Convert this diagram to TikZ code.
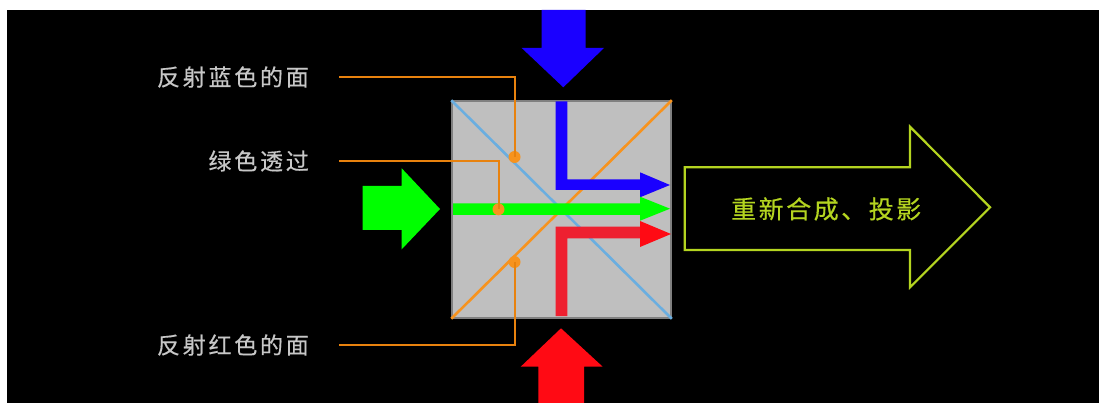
\documentclass[tikz,border=0pt]{standalone}
\usepackage{fontspec}
\newfontfamily\cjklabel[LetterSpace=12,FakeBold=0.4]{Noto Sans CJK SC}
\newfontfamily\cjktitle[LetterSpace=10,FakeBold=0.5]{Noto Sans CJK SC}
\definecolor{lead}{HTML}{E8820E}
\definecolor{dotor}{HTML}{F7931E}
\definecolor{mirb}{HTML}{6AAEE0}
\definecolor{lime}{HTML}{B4D420}
\definecolor{blu}{HTML}{1A00FF}
\definecolor{redb}{HTML}{EE2030}
\definecolor{redh}{HTML}{FF0A14}
\tikzset{
  x=1pt,y=-1pt,
  lab/.style={font=\cjklabel\fontsize{23}{23}\selectfont,text=black!22,inner sep=0pt,anchor=east},
  leadline/.style={draw=lead,line width=2pt,line join=miter},
  hit/.style={circle,fill=dotor,minimum size=12pt,inner sep=0pt},
}
\begin{document}
\begin{tikzpicture}
\useasboundingbox (0,0) rectangle (1099,403);
\fill[white] (0,0) rectangle (1099,403);
\fill[black] (7,10) rectangle (1099,403);
% input arrows
\fill[blu] (541.7,10) -- (585.7,10) -- (585.7,48) -- (604,48) -- (563.3,87.3) -- (521.7,48) -- (541.7,48) -- cycle;
\fill[redh] (538.3,403) -- (584,403) -- (584,366.7) -- (602.7,366.7) -- (561,328.3) -- (520.7,366.7) -- (538.3,366.7) -- cycle;
\fill[green] (362.7,186) -- (401.7,186) -- (401.7,168.3) -- (440,209) -- (401.7,249.3) -- (401.7,230) -- (362.7,230) -- cycle;
% prism
\node[draw=black!50,fill=black!25,line width=1.5pt,minimum width=219pt,minimum height=217pt,inner sep=0pt] (prism) at (561.5,209.5) {};
\draw[mirb,line width=2.6pt] (prism.north west) -- (prism.south east);
\draw[dotor,line width=2.6pt] (prism.south west) -- (prism.north east);
% beams
\fill[blu] (555.7,101.5) -- (567.3,101.5) -- (567.3,179.3) -- (640,179.3) -- (640,172.3) -- (670,185) -- (640,197.3) -- (640,190) -- (555.7,190) -- cycle;
\fill[green] (453,203.3) -- (640,203.3) -- (640,196.7) -- (670,208.7) -- (640,220.7) -- (640,215) -- (453,215) -- cycle;
\fill[redb] (555.7,316) -- (567.3,316) -- (567.3,238.3) -- (641,238.3) -- (641,226.7) -- (555.7,226.7) -- cycle;
\fill[redh] (640,221) -- (671,234) -- (640,247) -- cycle;
% labels
\node[lab] (lblue) at (309,77) {反射蓝色的面};
\node[lab] (lgreen) at (309,161) {绿色透过};
\node[lab] (lred) at (309,345) {反射红色的面};
\coordinate (sblue) at (339,77);
\coordinate (sgreen) at (339,161);
\coordinate (sred) at (339,345);
\node[hit] (dblue) at (514.5,157) {};
\node[hit] (dgreen) at (498.5,209.3) {};
\node[hit] (dred) at (514.5,262) {};
\draw[leadline] (sblue) -| (dblue.center);
\draw[leadline] (sgreen) -| (dgreen.center);
\draw[leadline] (sred) -| (dred.center);
% output
\draw[lime,line width=2.2pt,line join=miter] (684.7,167.3) -- (910,167.3) -- (910,126.7) -- (990,207.3) -- (910,287.3) -- (910,250) -- (684.7,250) -- cycle;
\node[font=\cjktitle\fontsize{25}{25}\selectfont,text=lime,inner sep=0pt,anchor=west] (out) at (731,209) {重新合成、投影};
\end{tikzpicture}
\end{document}
